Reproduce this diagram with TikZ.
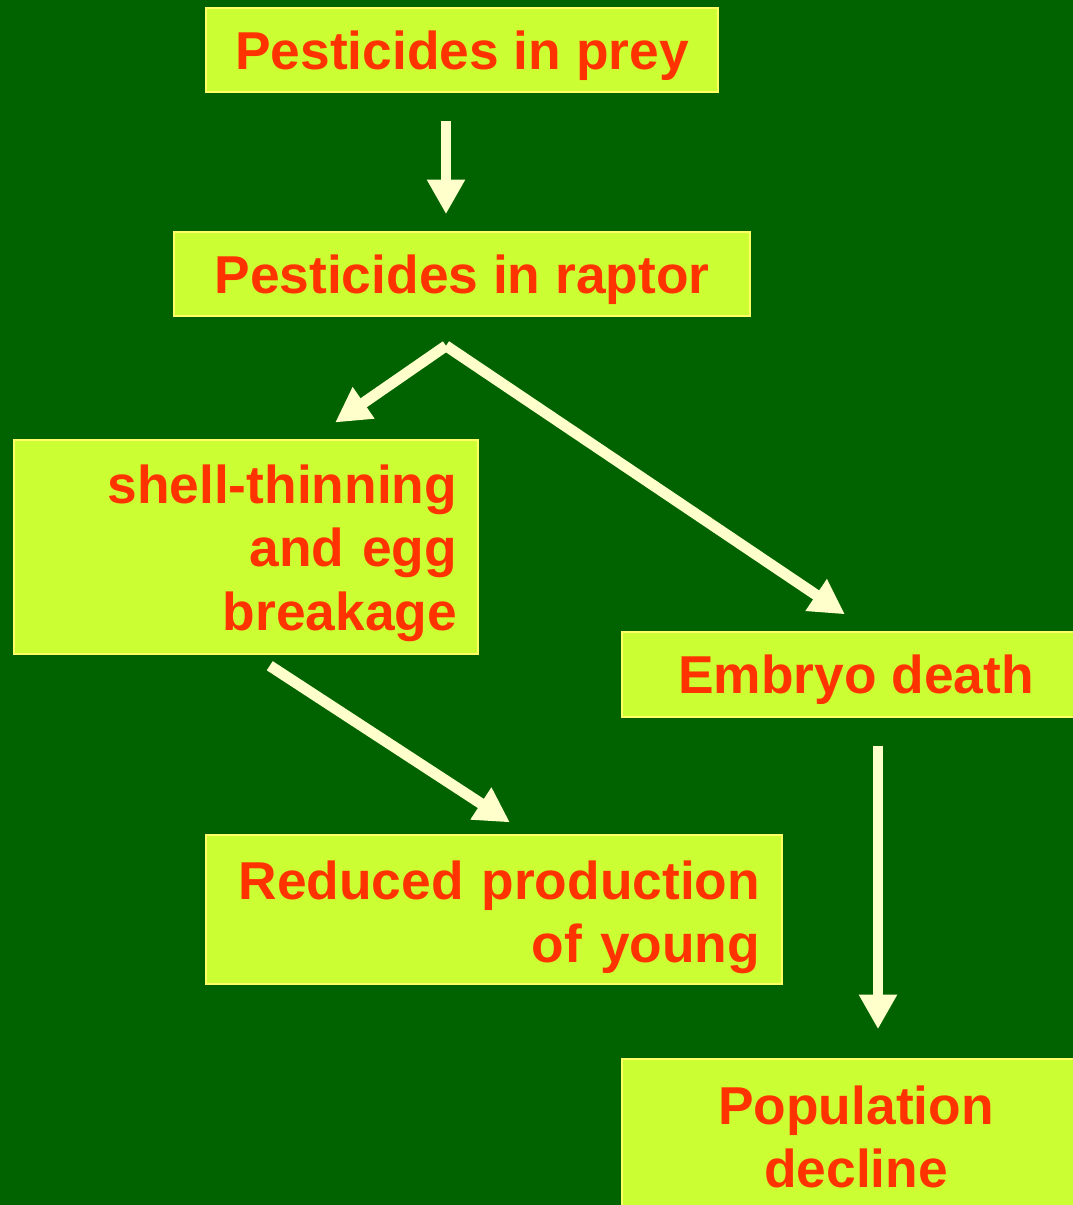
\documentclass[tikz,border=0pt]{standalone}
\usepackage{fontspec}
\setmainfont{Liberation Sans}
\usepackage{xcolor}
\usetikzlibrary{arrows.meta}
\definecolor{bgreen}{HTML}{006300}
\definecolor{boxlime}{HTML}{CCFF33}
\definecolor{boxedge}{HTML}{FFFF66}
\definecolor{txtred}{HTML}{FF3300}
\definecolor{arrcream}{HTML}{FFFFCC}
\begin{document}
\begin{tikzpicture}[x=0.75pt, y=-0.75pt, >={Triangle[length=26pt, width=27pt]},
    font=\fontsize{40}{47.5}\selectfont\bfseries]
    \tikzstyle{box}=[draw=boxedge, line width=1.2pt, fill=boxlime, text=txtred,
      inner sep=0pt, align=center]
    \tikzstyle{arr}=[->, draw=arrcream, line width=8.2pt]
    \fill[bgreen] (0,0) rectangle (1073,1205);
    \useasboundingbox (0,0) rectangle (1073,1205);

    \node[box, minimum width=384pt, minimum height=63pt, text depth=0pt] (prey) at (462,50) {Pesticides in prey};
    \node[box, minimum width=432pt, minimum height=63pt, text depth=0pt] (raptor) at (462,274) {Pesticides in raptor};
    \node[box, minimum width=348pt, minimum height=160.5pt, inner xsep=15.75pt,
      text width=316.5pt, align=right, text depth=94pt] (shell) at (246,547) {shell-thinning\\and egg\\breakage};
    \node[box, minimum width=351pt, minimum height=63.75pt, text depth=0pt] (embryo) at (856,674.5) {Embryo death};
    \node[box, minimum width=432pt, minimum height=111.75pt, inner xsep=16.5pt,
      text width=399pt, align=right, text depth=44pt] (young) at (494,909.5) {Reduced production\\of young};
    \node[box, minimum width=351pt, minimum height=117pt] (decline) at (856,1137) {Population\\decline};

    \coordinate (fork) at ([xshift=-12pt, yshift=-21.75pt]raptor.south);

    \draw[arr, shorten <=21pt, shorten >=12.75pt] ([xshift=-12pt]prey.south) -- ([xshift=-12pt]raptor.north);
    \draw[arr, shorten >=22pt] (fork) -- ([xshift=48.75pt]shell.north);
    \draw[arr, shorten >=22.7pt] (fork) -- ([xshift=10.5pt]embryo.north);
    \draw[arr, shorten <=15pt, shorten >=16.2pt] ([xshift=5.25pt]shell.south) -- ([xshift=25.5pt]young.north);
    \draw[arr, shorten <=21pt, shorten >=21.75pt] ([xshift=16.5pt]embryo.south) -- ([xshift=16.5pt]decline.north);
  \end{tikzpicture}
\end{document}
